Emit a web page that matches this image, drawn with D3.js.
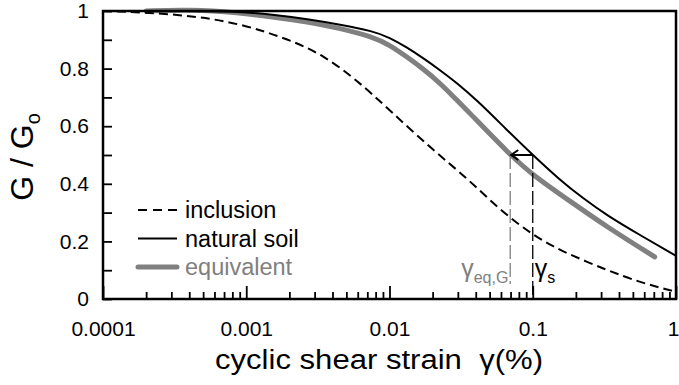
<!DOCTYPE html>
<html>
<head>
<meta charset="utf-8">
<script src="https://cdn.jsdelivr.net/npm/d3@7"></script>
<style>
  body { margin: 0; background: #fff; }
  text { font-family: "Liberation Sans", Arial, sans-serif; }
</style>
</head>
<body>
<div id="chart"></div>
<script>
// ---- data (strain in %, G/Go) ----
const inclusionStrain = [0.0001, 0.000345, 0.0009, 0.00202, 0.00344, 0.00593, 0.01, 0.0201, 0.0348, 0.059, 0.1, 0.155, 0.33, 0.56, 0.91, 1.0];
const inclusionG      = [1.0,    0.99,     0.958,  0.9,     0.847,   0.76,    0.656, 0.517, 0.42,  0.309, 0.222, 0.168, 0.1, 0.058, 0.03, 0.025];

const naturalStrain = [0.0001, 0.0004, 0.0009, 0.0015, 0.0027, 0.0045, 0.0077, 0.01, 0.0132, 0.0171, 0.0225, 0.0296, 0.0408, 0.066, 0.1, 0.155, 0.224, 0.33, 0.56, 1.0];
const naturalG      = [1.0,    1.0,    0.998,  0.988,  0.972,  0.953,  0.93,   0.908, 0.874, 0.837, 0.795,  0.75,   0.69,   0.587, 0.5, 0.413, 0.35,  0.29, 0.222, 0.15];

const equivStrain = [0.0002, 0.0004, 0.0009, 0.0015, 0.0027, 0.0045, 0.0077, 0.01, 0.0132, 0.0171, 0.0225, 0.0296, 0.0348, 0.0696, 0.1, 0.19, 0.33, 0.71];
const equivG      = [1.0,    1.005,  0.994,  0.98,   0.963,  0.94,   0.91,   0.882, 0.841, 0.80,  0.75,   0.69,   0.655,  0.5,    0.43, 0.333, 0.25, 0.146];

const gammaS = 0.1, gammaEq = 0.0696, gAtShift = 0.5;

const xMajorTicks = [0.0001, 0.001, 0.01, 0.1, 1];
const xTickLabels = ["0.0001", "0.001", "0.01", "0.1", "1"];
const yMajorTicks = [0, 0.2, 0.4, 0.6, 0.8, 1];
const yMinorTicks = [0.1, 0.3, 0.5, 0.7, 0.9];
const legendLabels = ["inclusion", "natural soil", "equivalent"];

// ---- layout ----
const width = 679, height = 385,
  margin = { top: 11, right: 3, bottom: 86, left: 103 };

const svg = d3.select("#chart").append("svg")
  .attr("width", width).attr("height", height);

const x = d3.scaleLog().domain([0.0001, 1]).range([margin.left, width - margin.right]);
const y = d3.scaleLinear().domain([0, 1]).range([height - margin.bottom, margin.top]);

// minor x ticks 2..9 per decade
const xMinorTicks = [];
xMajorTicks.slice(0, -1).forEach(d => {
  for (let k = 2; k <= 9; k++) xMinorTicks.push(d * k);
});

// ---- axes ----
const gx = svg.append("g").attr("transform", `translate(0,${y(0)})`);
gx.call(d3.axisBottom(x).tickValues(xMinorTicks).tickSize(-7).tickFormat(""));
gx.append("g").call(d3.axisBottom(x).tickValues(xMajorTicks).tickSize(-13).tickPadding(22)
    .tickFormat((d, i) => xTickLabels[i]));
gx.selectAll("path.domain").remove();
gx.selectAll("line").attr("stroke", "#000").attr("stroke-width", 1.8);
gx.selectAll("text").attr("font-size", 21).attr("fill", "#000");
// last label sits against the right edge, as in the picture
gx.selectAll("text").filter(d => d === 1).attr("text-anchor", "end").attr("dx", 3);

const gy = svg.append("g").attr("transform", `translate(${x(0.0001)},0)`);
gy.call(d3.axisLeft(y).tickValues(yMinorTicks).tickSize(-9).tickFormat(""));
gy.append("g").call(d3.axisLeft(y).tickValues(yMajorTicks).tickSize(-9).tickPadding(14)
    .tickFormat(d => d3.format("")(d)));
gy.selectAll("path.domain").remove();
gy.selectAll("line").attr("stroke", "#000").attr("stroke-width", 1.8);
gy.selectAll("text").attr("font-size", 21).attr("fill", "#000");

// ---- curves ----
const line = d3.line().x(d => x(d[0])).y(d => y(d[1])).curve(d3.curveBasis);

svg.append("path")
  .datum(d3.zip(equivStrain, equivG))
  .attr("d", line).attr("fill", "none")
  .attr("stroke", "#808080").attr("stroke-width", 5).attr("stroke-linecap", "round");

svg.append("path")
  .datum(d3.zip(naturalStrain, naturalG))
  .attr("d", line).attr("fill", "none")
  .attr("stroke", "#000").attr("stroke-width", 2);

svg.append("path")
  .datum(d3.zip(inclusionStrain, inclusionG))
  .attr("d", line).attr("fill", "none")
  .attr("stroke", "#000").attr("stroke-width", 2).attr("stroke-dasharray", "9,5");

// ---- frame ----
svg.append("rect")
  .attr("x", x(0.0001)).attr("y", y(1))
  .attr("width", x(1) - x(0.0001)).attr("height", y(0) - y(1))
  .attr("fill", "none").attr("stroke", "#000").attr("stroke-width", 2.5);

// ---- strain shift annotation ----
svg.append("line")
  .attr("x1", x(gammaS)).attr("x2", x(gammaS))
  .attr("y1", y(gAtShift)).attr("y2", y(0))
  .attr("stroke", "#000").attr("stroke-width", 1.3).attr("stroke-dasharray", "14,4");

svg.append("line")
  .attr("x1", x(gammaEq)).attr("x2", x(gammaEq))
  .attr("y1", y(gAtShift)).attr("y2", y(0) - 15)
  .attr("stroke", "#808080").attr("stroke-width", 1.3).attr("stroke-dasharray", "14,4");

svg.append("line")
  .attr("x1", x(gammaS)).attr("x2", x(gammaEq) + 1)
  .attr("y1", y(gAtShift)).attr("y2", y(gAtShift))
  .attr("stroke", "#000").attr("stroke-width", 2);

const ax = x(gammaEq), ay = y(gAtShift);
svg.append("path")
  .attr("d", `M${ax + 8},${ay - 5}L${ax + 1},${ay}L${ax + 8},${ay + 5}`)
  .attr("fill", "none").attr("stroke", "#000").attr("stroke-width", 2);

const eqLabel = svg.append("text")
  .attr("x", ax - 49).attr("y", y(0) - 22)
  .attr("fill", "#808080").attr("font-size", 25);
eqLabel.append("tspan").text("γ");
eqLabel.append("tspan").attr("font-size", 16).attr("dy", 6).text("eq,G");

const sLabel = svg.append("text")
  .attr("x", x(gammaS) + 2).attr("y", y(0) - 22)
  .attr("fill", "#000").attr("font-size", 25);
sLabel.append("tspan").text("γ");
sLabel.append("tspan").attr("font-size", 16).attr("dy", 6).text("s");

// ---- legend ----
const legend = svg.append("g");
const legendStyles = [
  { stroke: "#000", width: 2, dash: "9,6", text: "#000" },
  { stroke: "#000", width: 2, dash: null, text: "#000" },
  { stroke: "#808080", width: 5, dash: null, text: "#808080" }
];
legendLabels.forEach((lab, i) => {
  const yy = 210 + i * 28.5;
  const s = legendStyles[i];
  legend.append("line")
    .attr("x1", 138).attr("x2", 177).attr("y1", yy).attr("y2", yy)
    .attr("stroke", s.stroke).attr("stroke-width", s.width)
    .attr("stroke-linecap", i === 2 ? "round" : "butt")
    .attr("stroke-dasharray", s.dash);
  legend.append("text")
    .attr("x", 185).attr("y", yy).attr("dy", "0.35em")
    .attr("font-size", 23.5).attr("fill", s.text).text(lab);
});

// ---- axis titles ----
svg.append("text")
  .attr("x", 379).attr("y", 369).attr("text-anchor", "middle")
  .attr("font-size", 27).attr("fill", "#000")
  .style("white-space", "pre")
  .attr("textLength", 328).attr("lengthAdjust", "spacingAndGlyphs")
  .text("cyclic shear strain  γ(%)");

const yTitle = svg.append("text")
  .attr("transform", `translate(33,${y(0.5) + 2}) rotate(-90)`)
  .attr("text-anchor", "middle").attr("font-size", 32).attr("fill", "#000");
yTitle.append("tspan").text("G / G");
yTitle.append("tspan").attr("font-size", 20).attr("dy", 7).text("o");
</script>
</body>
</html>
